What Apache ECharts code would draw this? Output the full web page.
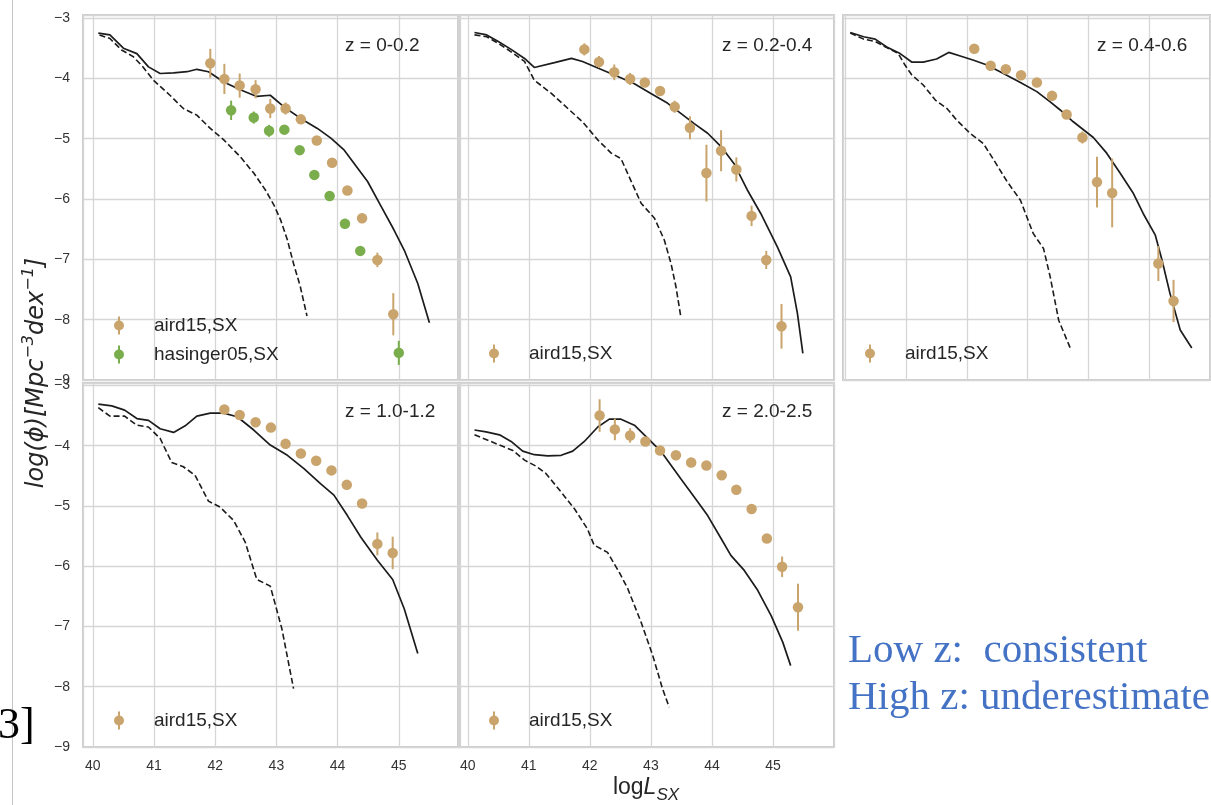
<!DOCTYPE html>
<html><head><meta charset="utf-8">
<script src="https://cdn.jsdelivr.net/npm/echarts@6/dist/echarts.min.js"></script>
<style>html,body{margin:0;padding:0;background:#fff;overflow:hidden}#c{width:1211px;height:805px}</style>
</head><body><div id="c"></div>
<script>
// ---------- data ----------
const xTicks = [40, 41, 42, 43, 44, 45];
const yTicks = [-9, -8, -7, -6, -5, -4, -3];
const panelLabels = ['z = 0-0.2', 'z = 0.2-0.4', 'z = 0.4-0.6', 'z = 1.0-1.2', 'z = 2.0-2.5'];
const airdName = 'aird15,SX';
const hasName = 'hasinger05,SX';

// panel 1 : z = 0-0.2
const p1ModelX = [40.09,40.28,40.50,40.72,40.91,41.10,41.32,41.54,41.70,41.89,42.14,42.41,42.68,42.90,43.12,43.39,43.67,43.89,44.10,44.27,44.49,44.70,44.92,45.09,45.31,45.50];
const p1ModelY = [-3.25,-3.28,-3.50,-3.59,-3.81,-3.92,-3.91,-3.89,-3.85,-3.89,-4.06,-4.19,-4.30,-4.28,-4.47,-4.66,-4.83,-4.99,-5.18,-5.41,-5.71,-6.10,-6.51,-6.85,-7.40,-8.05];
const p1DashX = [40.11,40.28,40.47,40.66,40.82,40.99,41.26,41.48,41.70,41.92,42.14,42.41,42.63,42.82,42.96,43.07,43.18,43.28,43.39,43.50];
const p1DashY = [-3.28,-3.34,-3.53,-3.64,-3.81,-4.03,-4.28,-4.50,-4.61,-4.83,-5.02,-5.30,-5.57,-5.85,-6.10,-6.35,-6.68,-7.07,-7.45,-7.94];
const p1AirdX = [41.92,42.15,42.40,42.66,42.90,43.15,43.40,43.66,43.91,44.16,44.40,44.65,44.91];
const p1AirdY = [-3.75,-4.01,-4.12,-4.18,-4.50,-4.50,-4.68,-5.03,-5.40,-5.86,-6.32,-7.01,-7.91];
const p1AirdErr = [0.24,0.25,0.20,0.15,0.16,0.10,0.07,0.04,0.05,0.04,0.08,0.12,0.35];
const p1HasX = [42.26,42.63,42.88,43.13,43.38,43.62,43.87,44.12,44.37,45.00];
const p1HasY = [-4.53,-4.65,-4.87,-4.85,-5.19,-5.60,-5.95,-6.41,-6.86,-8.55];
const p1HasErr = [0.16,0.10,0.10,0.04,0.03,0.03,0.03,0.08,0.08,0.20];

// panel 2 : z = 0.2-0.4
const p2ModelX = [40.11,40.31,40.50,40.71,40.93,41.09,41.42,41.70,41.88,42.13,42.46,42.73,43.00,43.27,43.49,43.71,43.93,44.15,44.36,44.58,44.80,45.07,45.29,45.40,45.49];
const p2ModelY = [-3.24,-3.28,-3.39,-3.52,-3.67,-3.82,-3.74,-3.67,-3.72,-3.83,-3.97,-4.09,-4.25,-4.41,-4.58,-4.75,-4.91,-5.13,-5.41,-5.85,-6.24,-6.79,-7.29,-7.89,-8.56];
const p2DashX = [40.11,40.31,40.50,40.71,40.93,41.09,41.37,41.64,41.88,42.13,42.35,42.51,42.67,42.84,43.06,43.22,43.33,43.41,43.49];
const p2DashY = [-3.28,-3.31,-3.42,-3.56,-3.72,-4.03,-4.25,-4.50,-4.72,-5.02,-5.24,-5.33,-5.69,-6.07,-6.32,-6.68,-7.07,-7.45,-7.95];
const p2AirdX = [41.91,42.15,42.40,42.66,42.90,43.15,43.39,43.64,43.91,44.15,44.40,44.65,44.89,45.14];
const p2AirdY = [-3.52,-3.73,-3.90,-4.01,-4.07,-4.21,-4.47,-4.82,-5.57,-5.20,-5.51,-6.28,-7.01,-8.11];
const p2AirdErr = [0.10,0.10,0.13,0.10,0.06,0.07,0.10,0.19,0.47,0.34,0.20,0.17,0.15,0.37];

// panel 3 : z = 0.4-0.6
const p3ModelX = [40.08,40.30,40.49,40.68,40.90,41.09,41.28,41.50,41.70,41.89,42.11,42.33,42.60,42.88,43.15,43.37,43.53,43.75,44.08,44.30,44.52,44.74,44.90,45.10,45.21,45.34,45.51,45.70];
const p3ModelY = [-3.24,-3.31,-3.35,-3.48,-3.59,-3.73,-3.73,-3.68,-3.57,-3.63,-3.70,-3.78,-3.92,-4.07,-4.22,-4.39,-4.52,-4.72,-4.98,-5.24,-5.57,-5.91,-6.24,-6.60,-7.01,-7.56,-8.17,-8.47];
const p3DashX = [40.08,40.30,40.49,40.68,40.87,40.98,41.09,41.28,41.48,41.67,41.83,42.05,42.27,42.44,42.66,42.88,43.09,43.26,43.37,43.51,43.70];
const p3DashY = [-3.25,-3.35,-3.39,-3.49,-3.59,-3.78,-3.94,-4.11,-4.36,-4.50,-4.69,-4.91,-5.08,-5.35,-5.71,-6.02,-6.57,-6.82,-7.29,-8.01,-8.47];
const p3AirdX = [42.12,42.39,42.64,42.89,43.15,43.40,43.64,43.90,44.14,44.39,45.15,45.40];
const p3AirdY = [-3.51,-3.79,-3.85,-3.95,-4.07,-4.29,-4.60,-4.98,-5.72,-5.90,-7.07,-7.69];
const p3AirdErr = [0.05,0.07,0.05,0.04,0.04,0.04,0.04,0.10,0.42,0.57,0.29,0.35];

// panel 4 : z = 1.0-1.2
const p4ModelX = [40.09,40.31,40.52,40.72,40.91,41.10,41.32,41.51,41.70,41.92,42.14,42.36,42.63,42.90,43.18,43.45,43.72,43.94,44.16,44.38,44.65,44.90,45.09,45.31];
const p4ModelY = [-3.31,-3.34,-3.41,-3.55,-3.58,-3.72,-3.78,-3.67,-3.51,-3.46,-3.46,-3.52,-3.74,-3.99,-4.16,-4.38,-4.63,-4.82,-5.16,-5.52,-5.90,-6.22,-6.71,-7.45];
const p4DashX = [40.09,40.28,40.52,40.72,40.91,41.10,41.29,41.48,41.67,41.89,42.08,42.30,42.49,42.68,42.90,43.09,43.28];
const p4DashY = [-3.37,-3.51,-3.51,-3.66,-3.69,-3.88,-4.28,-4.35,-4.49,-4.92,-5.02,-5.24,-5.60,-6.22,-6.33,-7.04,-8.03];
const p4AirdX = [42.15,42.40,42.66,42.91,43.15,43.40,43.65,43.90,44.15,44.40,44.65,44.90];
const p4AirdY = [-3.40,-3.49,-3.61,-3.70,-3.97,-4.13,-4.25,-4.41,-4.65,-4.96,-5.63,-5.78];
const p4AirdErr = [0.07,0.04,0.03,0.03,0.03,0.03,0.03,0.03,0.03,0.05,0.19,0.27];

// panel 5 : z = 2.0-2.5
const p5ModelX = [40.11,40.30,40.52,40.71,40.90,41.09,41.31,41.53,41.72,41.91,42.13,42.32,42.51,42.73,42.95,43.17,43.49,43.71,43.93,44.15,44.31,44.53,44.75,44.97,45.16,45.29];
const p5ModelY = [-3.74,-3.77,-3.82,-3.93,-4.09,-4.15,-4.17,-4.16,-4.09,-3.93,-3.69,-3.56,-3.56,-3.66,-3.88,-4.10,-4.55,-4.85,-5.16,-5.54,-5.82,-6.07,-6.40,-6.82,-7.26,-7.65];
const p5DashX = [40.11,40.33,40.52,40.74,40.93,41.12,41.28,41.53,41.75,41.96,42.07,42.29,42.48,42.62,42.84,43.03,43.19,43.30];
const p5DashY = [-3.82,-3.91,-3.99,-4.08,-4.24,-4.34,-4.46,-4.77,-5.05,-5.38,-5.65,-5.77,-6.10,-6.37,-6.93,-7.48,-8.03,-8.34];
const p5AirdX = [42.16,42.41,42.66,42.91,43.15,43.41,43.66,43.91,44.16,44.40,44.65,44.90,45.15,45.41];
const p5AirdY = [-3.50,-3.73,-3.83,-3.93,-4.08,-4.16,-4.28,-4.33,-4.49,-4.73,-5.05,-5.54,-6.01,-6.68];
const p5AirdErr = [0.27,0.18,0.12,0.04,0.03,0.03,0.03,0.03,0.03,0.03,0.03,0.07,0.17,0.39];

// ---------- layout / style ----------
const C_AIRD = '#c9a46c', C_HAS = '#7aad4c', C_LINE = '#1c1c1c';
const SANS = 'Liberation Sans', SERIF = 'Liberation Serif';
const grids = [
  {left: 83, top: 15, width: 377, height: 365},
  {left: 458, top: 15, width: 376, height: 365},
  {left: 843, top: 15, width: 367, height: 365},
  {left: 83, top: 383, width: 377, height: 364},
  {left: 458, top: 383, width: 376, height: 364}
];
const xMin = [39.84, 39.84, 39.96, 39.84, 39.84];
const yMax = [-2.95, -2.95, -2.95, -2.96, -2.96];
const showY = [true, false, false, true, false];
const showX = [false, false, false, true, true];
const labelPos = [[345, 46], [722, 46], [1097, 46], [345, 412], [722, 412]];

const panels = [
  {model: [p1ModelX, p1ModelY], dash: [p1DashX, p1DashY], aird: [p1AirdX, p1AirdY, p1AirdErr], has: [p1HasX, p1HasY, p1HasErr]},
  {model: [p2ModelX, p2ModelY], dash: [p2DashX, p2DashY], aird: [p2AirdX, p2AirdY, p2AirdErr]},
  {model: [p3ModelX, p3ModelY], dash: [p3DashX, p3DashY], aird: [p3AirdX, p3AirdY, p3AirdErr]},
  {model: [p4ModelX, p4ModelY], dash: [p4DashX, p4DashY], aird: [p4AirdX, p4AirdY, p4AirdErr]},
  {model: [p5ModelX, p5ModelY], dash: [p5DashX, p5DashY], aird: [p5AirdX, p5AirdY, p5AirdErr]}
];

const zip2 = (a, b) => a.map((v, i) => [v, b[i]]);
const zip3 = (a, b, c) => a.map((v, i) => [v, b[i], c[i]]);
const isInt = v => Math.abs(v - Math.round(v)) < 1e-6;
const fmtX = v => (isInt(v) && xTicks.includes(Math.round(v))) ? String(Math.round(v)) : '';
const fmtY = v => (isInt(v) && yTicks.includes(Math.round(v))) ? '\u2212' + Math.abs(Math.round(v)) : '';

function errBars(i, d, color) {
  return {
    type: 'custom', xAxisIndex: i, yAxisIndex: i, silent: true, z: 4,
    data: zip3(d[0], d[1], d[2]),
    encode: {x: 0, y: 1},
    renderItem: (params, api) => {
      const x = api.value(0), y = api.value(1), e = api.value(2);
      const a = api.coord([x, y + e]), b = api.coord([x, y - e]);
      return {type: 'line', shape: {x1: a[0], y1: a[1], x2: b[0], y2: b[1]},
              style: {stroke: color, lineWidth: 2}};
    }
  };
}
function pts(i, d, name, color) {
  return {type: 'scatter', name: name, xAxisIndex: i, yAxisIndex: i, z: 5, silent: true,
          symbol: 'circle', symbolSize: 10.5, itemStyle: {color: color, opacity: 1},
          data: zip2(d[0], d[1])};
}

const series = [];
panels.forEach((p, i) => {
  series.push({type: 'line', xAxisIndex: i, yAxisIndex: i, symbol: 'none', silent: true, z: 3,
               lineStyle: {color: C_LINE, width: 1.7}, data: zip2(p.model[0], p.model[1])});
  series.push({type: 'line', xAxisIndex: i, yAxisIndex: i, symbol: 'none', silent: true, z: 3,
               lineStyle: {color: C_LINE, width: 1.6, type: [6, 3]}, data: zip2(p.dash[0], p.dash[1])});
  series.push(errBars(i, p.aird, C_AIRD));
  series.push(pts(i, p.aird, airdName, C_AIRD));
  if (p.has) {
    series.push(errBars(i, p.has, C_HAS));
    series.push(pts(i, p.has, hasName, C_HAS));
  }
});

const ICON = 'path://M4,0L6,0L6,18L4,18Z M0,9A5,5,0,1,1,10,9A5,5,0,1,1,0,9Z';
const legendBase = {orient: 'vertical', itemWidth: 10, itemHeight: 18, itemGap: 10, icon: ICON,
  selectedMode: false, padding: 0,
  textStyle: {fontFamily: SANS, fontSize: 19, color: '#262626', padding: [0, 0, 0, 25]}};
const legends = [
  Object.assign({}, legendBase, {left: 114, top: 316, data: [airdName, hasName]}),
  Object.assign({}, legendBase, {left: 489, top: 344, data: [airdName]}),
  Object.assign({}, legendBase, {left: 865, top: 344, data: [airdName]}),
  Object.assign({}, legendBase, {left: 114, top: 711, data: [airdName]}),
  Object.assign({}, legendBase, {left: 489, top: 711, data: [airdName]})
];

const graphics = [
  {type: 'line', shape: {x1: 12.5, y1: 0, x2: 12.5, y2: 805}, style: {stroke: '#c4c4c4', lineWidth: 1}, z: 0},
  {type: 'text', x: -2, y: 726, z: 10, style: {text: '3]', font: '44px "' + SERIF + '"', fill: '#000', align: 'left', verticalAlign: 'middle'}},
  {type: 'text', x: 848, y: 651, z: 10, style: {text: 'Low z:  consistent', font: '41px "' + SERIF + '"', fill: '#4472c4', align: 'left', verticalAlign: 'middle'}},
  {type: 'text', x: 848, y: 698, z: 10, style: {text: 'High z: underestimated', font: '41px "' + SERIF + '"', fill: '#4472c4', align: 'left', verticalAlign: 'middle'}},
  {type: 'text', x: 37, y: 373, rotation: Math.PI / 2, z: 10, style: {
     text: '{i|log(\u03d5)[Mpc}{s|\u22123}{i|dex}{s|\u22121}{i|]}', align: 'center', verticalAlign: 'middle',
     rich: {i: {fontFamily: 'DejaVu Sans', fontStyle: 'italic', fontSize: 24, lineHeight: 32, fill: '#262626'},
            s: {fontFamily: 'DejaVu Sans', fontStyle: 'italic', fontSize: 16, lineHeight: 19, verticalAlign: 'top', fill: '#262626'}}}},
  {type: 'text', x: 646, y: 788, z: 10, style: {
     text: '{a|log}{b|L}{c|SX}', align: 'center', verticalAlign: 'middle',
     rich: {a: {fontFamily: SANS, fontSize: 23, lineHeight: 32, fill: '#262626'},
            b: {fontFamily: SANS, fontStyle: 'italic', fontSize: 23, lineHeight: 32, fill: '#262626'},
            c: {fontFamily: SANS, fontStyle: 'italic', fontSize: 17, lineHeight: 20, verticalAlign: 'bottom', fill: '#262626'}}}}
];
panelLabels.forEach((t, i) => {
  graphics.push({type: 'text', x: labelPos[i][0], y: labelPos[i][1], z: 10,
    style: {text: t, font: '19px "' + SANS + '"', fill: '#262626', align: 'left', verticalAlign: 'middle'}});
});

const option = {
  animation: false,
  backgroundColor: '#ffffff',
  grid: grids.map(g => Object.assign({show: true, borderColor: '#cccccc', borderWidth: 2, backgroundColor: 'transparent'}, g)),
  xAxis: grids.map((g, i) => ({
    type: 'value', gridIndex: i, min: xMin[i], max: 46, splitNumber: 6,
    axisLine: {show: false}, axisTick: {show: false},
    splitLine: {show: true, lineStyle: {color: '#d6d6d6', width: 1.3}},
    axisLabel: {show: showX[i], formatter: fmtX, color: '#333', fontFamily: SANS, fontSize: 14, margin: 12,
                showMinLabel: true, showMaxLabel: true}
  })),
  yAxis: grids.map((g, i) => ({
    type: 'value', gridIndex: i, min: -9, max: yMax[i], splitNumber: 6,
    axisLine: {show: false}, axisTick: {show: false},
    splitLine: {show: true, lineStyle: {color: '#d6d6d6', width: 1.3}},
    axisLabel: {show: showY[i], formatter: fmtY, color: '#333', fontFamily: SANS, fontSize: 14, margin: 13,
                showMinLabel: true, showMaxLabel: true}
  })),
  legend: legends,
  graphic: graphics,
  series: series
};
const chart = echarts.init(document.getElementById('c'), null, {renderer: 'canvas'});
chart.setOption(option);
</script></body></html>
